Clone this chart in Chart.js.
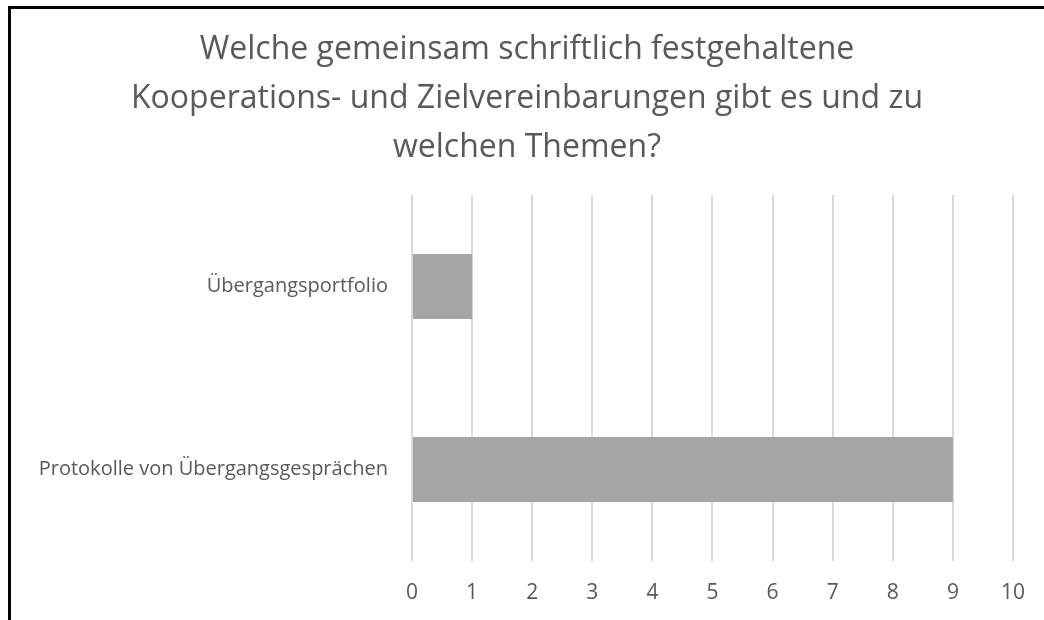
<!DOCTYPE html>
<html>
<head>
<meta charset="utf-8">
<script src="https://cdn.jsdelivr.net/npm/chart.js@4"></script>
<style>
  body { margin: 0; background: #fff; overflow: hidden; }
  #wrap { position: relative; width: 1044px; height: 620px; }
  #frame { position: absolute; left: 8px; top: 6px; width: 1100px; height: 700px; border: 3px solid #000; box-sizing: border-box; }
  canvas { position: absolute; left: 0; top: 0; }
</style>
</head>
<body>
<div id="wrap">
  <div id="frame"></div>
  <canvas id="chart" width="1044" height="620"></canvas>
</div>
<script>
// Chart data
const titleLines = [
    'Welche gemeinsam schriftlich festgehaltene',
    'Kooperations- und Zielvereinbarungen gibt es und zu',
    'welchen Themen?'
];
const categories = ['Übergangsportfolio', 'Protokolle von Übergangsgesprächen'];
const counts = [1, 9];
const xMin = 0;
const xMax = 10;

const textColor = '#595959';
const fontFamily = "'Open Sans', 'Noto Sans', sans-serif";

// The title sits centred on the whole frame, not on the padded layout box
const centerTitle = {
    id: 'centerTitle',
    afterLayout(chart) {
        if (chart.titleBlock) {
            chart.titleBlock.left = 0;
            chart.titleBlock.right = 1054;
        }
    }
};

const ctx = document.getElementById('chart');

new Chart(ctx, {
    type: 'bar',
    data: {
        labels: categories,
        datasets: [{
            data: counts,
            backgroundColor: '#a5a5a5',
            borderWidth: 0,
            barPercentage: 0.355,
            categoryPercentage: 1
        }]
    },
    options: {
        indexAxis: 'y',
        responsive: false,
        animation: false,
        layout: {
            padding: { left: 0, right: 31, top: 0, bottom: 0 }
        },
        plugins: {
            legend: { display: false },
            tooltip: { enabled: false },
            title: {
                display: true,
                text: titleLines,
                color: textColor,
                font: { family: fontFamily, size: 32, weight: 'normal', lineHeight: '49px' },
                padding: { top: 25, bottom: 23 }
            }
        },
        scales: {
            x: {
                min: xMin,
                max: xMax,
                border: { display: false },
                grid: {
                    color: '#d9d9d9',
                    lineWidth: 2,
                    drawTicks: false
                },
                ticks: {
                    stepSize: 1,
                    color: textColor,
                    padding: 19,
                    font: { family: fontFamily, size: 21 }
                },
                afterFit: function(scale) { scale.height = 59; }
            },
            y: {
                border: { display: false },
                grid: { display: false, drawTicks: false },
                ticks: {
                    color: textColor,
                    padding: 24,
                    font: { family: fontFamily, size: 20 }
                },
                afterFit: function(scale) { scale.width = 412; }
            }
        }
    },
    plugins: [centerTitle]
});
</script>
</body>
</html>
